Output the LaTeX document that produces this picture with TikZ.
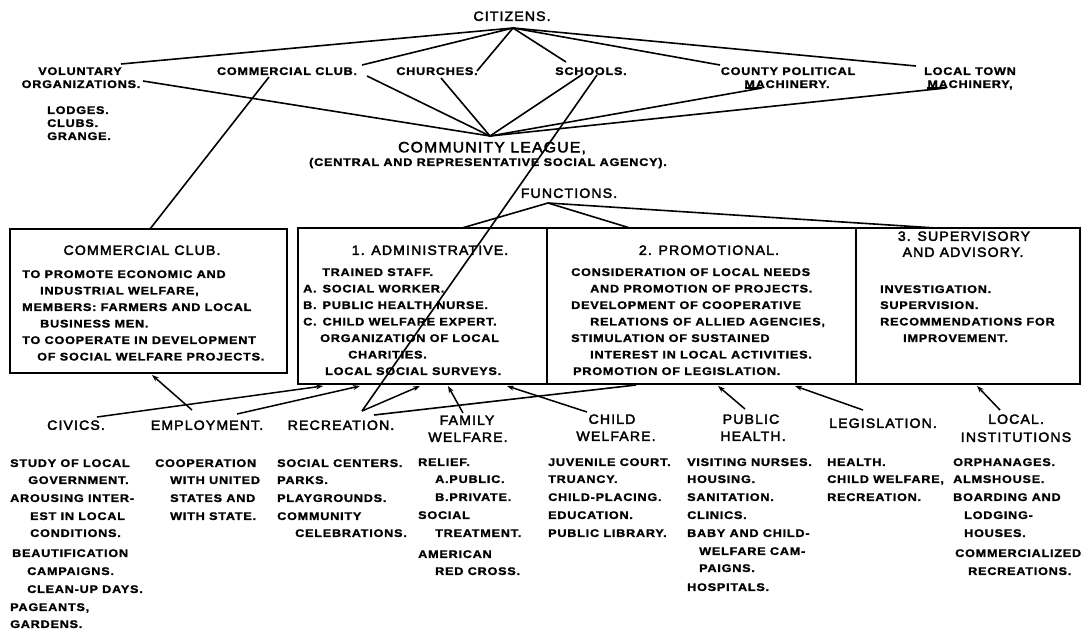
\documentclass[tikz,border=0pt]{standalone}
\usepackage{fontspec}
\setmainfont{Liberation Sans}
\newfontfamily\bodyfont{Liberation Sans}[FakeStretch=1.15,LetterSpace=7,FakeBold=1.5]
\newfontfamily\headfont{Liberation Sans}[FakeStretch=1.05,LetterSpace=8,FakeBold=2.5]
\usetikzlibrary{arrows.meta}
\tikzset{
 lab/.style={inner sep=0pt, text height=7.9pt, text depth=0pt, font=\bodyfont\bfseries\fontsize{11}{13}\selectfont},
 lw/.style={lab, anchor=west},
 hd/.style={inner sep=0pt, text height=9.7pt, text depth=0pt, font=\headfont\fontsize{13.5}{16}\selectfont},
 big/.style={inner sep=0pt, text height=10.7pt, text depth=0pt, font=\headfont\fontsize{15}{18}\selectfont},
 box/.style={draw, line width=1.7pt, inner sep=0pt},
 ln/.style={line width=1.6pt},
 ar/.style={line width=1.5pt, -{Stealth[length=7pt,width=5pt]}},
}
\begin{document}
\begin{tikzpicture}[x=1pt,y=-1pt]
\fill[white] (0,0) rectangle (1084,630);
\useasboundingbox (0,0) rectangle (1084,630);

% ---------- top level ----------
\node[hd] (cit) at (512,16) {CITIZENS.};
\node[lab] (vol1) at (80,71) {VOLUNTARY};
\node[lab] (vol2) at (81,84) {ORGANIZATIONS.};
\node[lw] (lod1) at (47,110) {LODGES.};
\node[lw] (lod2) at (47,123) {CLUBS.};
\node[lw] (lod3) at (47,136) {GRANGE.};
\node[lab] (cc) at (287,71) {COMMERCIAL CLUB.};
\node[lab] (chu) at (437,71) {CHURCHES.};
\node[lab] (sch) at (591,71) {SCHOOLS.};
\node[lab] (cty1) at (788,71) {COUNTY POLITICAL};
\node[lab] (cty2) at (787,84) {MACHINERY.};
\node[lab] (ltm1) at (970,71) {LOCAL TOWN};
\node[lab] (ltm2) at (970,84) {MACHINERY,};
\node[big] (cl) at (492,147) {COMMUNITY LEAGUE,};
\node[lab] (cl2) at (488,162) {(CENTRAL AND REPRESENTATIVE SOCIAL AGENCY).};
\node[hd] (fun) at (569,193) {FUNCTIONS.};

\coordinate (citA) at (513,28);
\coordinate (clA) at (490,136);
\coordinate (funA) at (548,203);

\coordinate (volE) at (121,64);
\coordinate (orgE) at (143,81);
\coordinate (ccE) at (362,65);
\coordinate (ccE2) at (367,76);
\coordinate (ccM) at (269,77);
\coordinate (chuE) at (477,71);
\coordinate (chuR) at (441,78);
\coordinate (schS) at (566,62);
\coordinate (schO) at (583,74);
\coordinate (schO2) at (597,75);
\coordinate (ctyS) at (720,65);
\coordinate (ltmS) at (916,66);
\coordinate (ctyM) at (762,88);
\coordinate (ctyM0) at (745,88);
\coordinate (ltmM) at (946,88);
\coordinate (ltmM0) at (927,88);

\draw[ln] (citA) -- (volE);
\draw[ln] (citA) -- (ccE);
\draw[ln] (citA) -- (chuE);
\draw[ln] (citA) -- (schS);
\draw[ln] (citA) -- (ctyS);
\draw[ln] (citA) -- (ltmS);

\draw[ln] (orgE) -- (clA);
\draw[ln] (ccE2) -- (clA);
\draw[ln] (chuR) -- (clA);
\draw[ln] (schO) -- (clA);
\draw[ln] (ctyM0) -- (ctyM) -- (clA);
\draw[ln] (ltmM0) -- (ltmM) -- (clA);

% ---------- boxes ----------
\node[box, minimum width=277pt, minimum height=144pt] (ccbox) at (148.5,301) {};
\node[box, minimum width=249pt, minimum height=156pt] (adbox) at (422.5,306) {};
\node[box, minimum width=309pt, minimum height=156pt] (prbox) at (701.5,306) {};
\node[box, minimum width=224pt, minimum height=156pt] (spbox) at (968,306) {};

\coordinate (ccTop) at (150,229);
\coordinate (adTop) at (462,228);
\coordinate (prTop) at (630,228);
\coordinate (spTop) at (936,228);

\draw[ln] (ccM) -- (ccTop);
\draw[ln] (funA) -- (adTop);
\draw[ln] (funA) -- (prTop);
\draw[ln] (funA) -- (spTop);

% commercial club box
\node[hd] (cct) at (142,250) {COMMERCIAL CLUB.};
\node[lw] (cc1) at (22,274) {TO PROMOTE ECONOMIC AND};
\node[lw] (cc2) at (40,290.5) {INDUSTRIAL WELFARE,};
\node[lw] (cc3) at (22,307) {MEMBERS: FARMERS AND LOCAL};
\node[lw] (cc4) at (40,323.5) {BUSINESS MEN.};
\node[lw] (cc5) at (22,340) {TO COOPERATE IN DEVELOPMENT};
\node[lw] (cc6) at (37,356.5) {OF SOCIAL WELFARE PROJECTS.};

% administrative box
\node[hd] (adt) at (430,250) {1. ADMINISTRATIVE.};
\node[lw] (ad1) at (322,272) {TRAINED STAFF.};
\node[lw] (ad2) at (303,288.5) {A.\hspace{6pt}SOCIAL WORKER.};
\node[lw] (ad3) at (303,305) {B.\hspace{6pt}PUBLIC HEALTH NURSE.};
\node[lw] (ad4) at (303,321.5) {C.\hspace{6pt}CHILD WELFARE EXPERT.};
\node[lw] (ad5) at (320,338) {ORGANIZATION OF LOCAL};
\node[lw] (ad6) at (348,354.5) {CHARITIES.};
\node[lw] (ad7) at (325,371) {LOCAL SOCIAL SURVEYS.};

% promotional box
\node[hd] (prt) at (709,250) {2. PROMOTIONAL.};
\node[lw] (pr1) at (571,272) {CONSIDERATION OF LOCAL NEEDS};
\node[lw] (pr2) at (590,288.5) {AND PROMOTION OF PROJECTS.};
\node[lw] (pr3) at (571,305) {DEVELOPMENT OF COOPERATIVE};
\node[lw] (pr4) at (590,321.5) {RELATIONS OF ALLIED AGENCIES,};
\node[lw] (pr5) at (571,338) {STIMULATION OF SUSTAINED};
\node[lw] (pr6) at (590,354.5) {INTEREST IN LOCAL ACTIVITIES.};
\node[lw] (pr7) at (573,371) {PROMOTION OF LEGISLATION.};

% supervisory box
\node[hd] (spt1) at (964,236) {3. SUPERVISORY};
\node[hd] (spt2) at (963,252) {AND ADVISORY.};
\node[lw] (sp1) at (880,289) {INVESTIGATION.};
\node[lw] (sp2) at (880,305) {SUPERVISION.};
\node[lw] (sp3) at (880,321.5) {RECOMMENDATIONS FOR};
\node[lw] (sp4) at (903,338) {IMPROVEMENT.};

% ---------- bottom categories ----------
\node[hd] (civ) at (76,425) {CIVICS.};
\node[hd] (emp) at (207,425) {EMPLOYMENT.};
\node[hd] (rec) at (341,425) {RECREATION.};
\node[hd] (fam1) at (467,420) {FAMILY};
\node[hd] (fam2) at (468,437) {WELFARE.};
\node[hd] (chi1) at (612,419) {CHILD};
\node[hd] (chi2) at (616,436) {WELFARE.};
\node[hd] (pub1) at (751,419) {PUBLIC};
\node[hd] (pub2) at (753,436) {HEALTH.};
\node[hd] (leg) at (883,423) {LEGISLATION.};
\node[hd] (loc1) at (1016,419) {LOCAL.};
\node[hd] (loc2) at (1016,437) {INSTITUTIONS};

% civics list
\node[lw] (cv1) at (10,463) {STUDY OF LOCAL};
\node[lw] (cv2) at (28,480) {GOVERNMENT.};
\node[lw] (cv3) at (10,498) {AROUSING INTER-};
\node[lw] (cv4) at (30,516) {EST IN LOCAL};
\node[lw] (cv5) at (30,533) {CONDITIONS.};
\node[lw] (cv6) at (12,553) {BEAUTIFICATION};
\node[lw] (cv7) at (27,571) {CAMPAIGNS.};
\node[lw] (cv8) at (27,589) {CLEAN-UP DAYS.};
\node[lw] (cv9) at (10,607) {PAGEANTS,};
\node[lw] (cv10) at (10,624) {GARDENS.};

% employment list
\node[lw] (em1) at (155,463) {COOPERATION};
\node[lw] (em2) at (170,480) {WITH UNITED};
\node[lw] (em3) at (170,498) {STATES AND};
\node[lw] (em4) at (170,516) {WITH STATE.};

% recreation list
\node[lw] (rc1) at (277,463) {SOCIAL CENTERS.};
\node[lw] (rc2) at (277,480) {PARKS.};
\node[lw] (rc3) at (277,498) {PLAYGROUNDS.};
\node[lw] (rc4) at (277,516) {COMMUNITY};
\node[lw] (rc5) at (295,533) {CELEBRATIONS.};

% family welfare list
\node[lw] (fw1) at (418,462) {RELIEF.};
\node[lw] (fw2) at (435,479) {A.PUBLIC.};
\node[lw] (fw3) at (435,497) {B.PRIVATE.};
\node[lw] (fw4) at (418,515) {SOCIAL};
\node[lw] (fw5) at (435,533) {TREATMENT.};
\node[lw] (fw6) at (418,554) {AMERICAN};
\node[lw] (fw7) at (435,571) {RED CROSS.};

% child welfare list
\node[lw] (cw1) at (548,462) {JUVENILE COURT.};
\node[lw] (cw2) at (548,479) {TRUANCY.};
\node[lw] (cw3) at (548,497) {CHILD-PLACING.};
\node[lw] (cw4) at (548,515) {EDUCATION.};
\node[lw] (cw5) at (548,533) {PUBLIC LIBRARY.};

% public health list
\node[lw] (ph1) at (687,462) {VISITING NURSES.};
\node[lw] (ph2) at (687,479) {HOUSING.};
\node[lw] (ph3) at (687,497) {SANITATION.};
\node[lw] (ph4) at (687,515) {CLINICS.};
\node[lw] (ph5) at (687,533) {BABY AND CHILD-};
\node[lw] (ph6) at (699,551) {WELFARE CAM-};
\node[lw] (ph7) at (699,568) {PAIGNS.};
\node[lw] (ph8) at (687,587) {HOSPITALS.};

% legislation list
\node[lw] (lg1) at (827,462) {HEALTH.};
\node[lw] (lg2) at (827,479) {CHILD WELFARE,};
\node[lw] (lg3) at (827,497) {RECREATION.};

% local institutions list
\node[lw] (li1) at (953,462) {ORPHANAGES.};
\node[lw] (li2) at (953,479) {ALMSHOUSE.};
\node[lw] (li3) at (953,497) {BOARDING AND};
\node[lw] (li4) at (964,515) {LODGING-};
\node[lw] (li5) at (964,533) {HOUSES.};
\node[lw] (li6) at (955,553) {COMMERCIALIZED};
\node[lw] (li7) at (968,571) {RECREATIONS.};

% ---------- bottom connectors ----------
\coordinate (civS) at (97,417);
\coordinate (civT) at (323,386);
\coordinate (empS1) at (192,410);
\coordinate (empT1) at (152,375);
\coordinate (empS2) at (237,414);
\coordinate (empT2) at (360,386);
\coordinate (recS) at (362,411);
\coordinate (recT) at (420,386);
\coordinate (recS2) at (374,415);
\coordinate (recT2) at (636,385);
\coordinate (famS) at (463,413);
\coordinate (famT) at (448,386);
\coordinate (chiS) at (587,412);
\coordinate (chiT) at (507,386);
\coordinate (pubS) at (745,409);
\coordinate (pubT) at (718,386);
\coordinate (legS) at (863,410);
\coordinate (legT) at (795,386);
\coordinate (locS) at (1000,410);
\coordinate (locT) at (977,386);

\draw[ln] (schO2) -- (recS);
\draw[ar] (civS) -- (civT);
\draw[ar] (empS1) -- (empT1);
\draw[ar] (empS2) -- (empT2);
\draw[ar] (recS) -- (recT);
\draw[ln] (recS2) -- (recT2);
\draw[ar] (famS) -- (famT);
\draw[ar] (chiS) -- (chiT);
\draw[ar] (pubS) -- (pubT);
\draw[ar] (legS) -- (legT);
\draw[ar] (locS) -- (locT);
\end{tikzpicture}
\end{document}
